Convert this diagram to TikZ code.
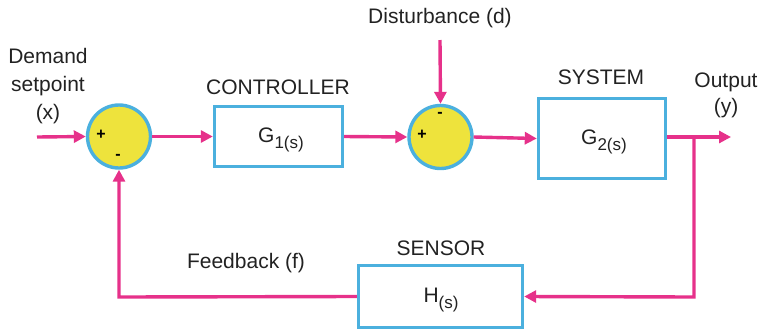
\documentclass[tikz,border=0pt]{standalone}
\usepackage{fontspec}
\setmainfont{Liberation Sans}
\usetikzlibrary{arrows.meta}
\definecolor{pinkc}{HTML}{E6318A}
\definecolor{bluec}{HTML}{4BB0DE}
\definecolor{yelc}{HTML}{EEE33C}
\definecolor{txtc}{HTML}{222222}
\newcommand{\subs}[1]{\raisebox{-6pt}{\fontsize{17}{18}\selectfont #1}}
\tikzset{
  sig/.style={draw=pinkc, line width=3.4pt},
  arr/.style={sig, -{Triangle[length=12pt,width=12pt]}},
  blk/.style={draw=bluec, line width=3.4pt, fill=white, inner sep=0pt},
  sumn/.style={circle, draw=bluec, line width=3.4pt, fill=yelc, minimum size=63pt, inner sep=0pt},
  lbl/.style={font=\fontsize{21}{24}\selectfont, text=txtc, inner sep=0pt},
  sgn/.style={font=\fontsize{16}{17}\selectfont\bfseries, text=black, inner sep=0pt},
}
\begin{document}
\begin{tikzpicture}[x=1pt, y=-1pt]
\useasboundingbox (0,0) rectangle (761,333);
% summers
\node[sumn] (s1) at (119,136.5) {};
\node[sumn] (s2) at (440.5,137) {};
\node[sgn] (p1) at (101,135) {+};
\node[sgn] (m1) at (118,157) {-};
\node[sgn] (p2) at (422,135) {+};
\node[sgn] (m2) at (440,115) {-};
% blocks
\node[blk, minimum width=128pt, minimum height=60pt] (c) at (278.5,136.5) {};
\node[lbl] (ct) at (281,140) {G\subs{1(s)}};
\node[blk, minimum width=127pt, minimum height=80pt] (g) at (602,138.5) {};
\node[lbl] (gt) at (604,142) {G\subs{2(s)}};
\node[blk, minimum width=164pt, minimum height=62pt] (h) at (440.5,296.5) {};
\node[lbl] (ht) at (441,300) {H\subs{(s)}};
% labels
\node[lbl, align=center, font=\fontsize{21}{28}\selectfont] (dem) at (48,86) {Demand\\setpoint\\(x)};
\node[lbl] (ctl) at (278,87) {CONTROLLER};
\node[lbl] (dst) at (440,18) {Disturbance (d)};
\node[lbl] (sys) at (601,77) {SYSTEM};
\node[lbl, align=center, font=\fontsize{21}{26}\selectfont] (out) at (726,95) {Output\\(y)};
\node[lbl] (sen) at (441,248) {SENSOR};
\node[lbl] (fb) at (246,263) {Feedback (f)};
% coordinates
\coordinate (in) at (37,137);
\coordinate (dtop) at (440,40);
\coordinate (o) at (731,137);
\coordinate (br) at (694,137);
\coordinate (brd) at (694,297);
\coordinate (fl) at (119,297);
% connectors
\draw[arr] (in) -- (s1.west);
\draw[arr] (s1.east) -- (c.west);
\draw[arr] (c.east) -- (s2.west);
\draw[arr] (dtop) -- (s2.north);
\draw[arr] (s2.east) -- (g.west);
\draw[arr] (g.east |- o) -- (o);
\draw[arr] (br) -- (brd) -- (h.east);
\draw[arr] (h.west) -- (fl) -- (s1.south);
\end{tikzpicture}
\end{document}
